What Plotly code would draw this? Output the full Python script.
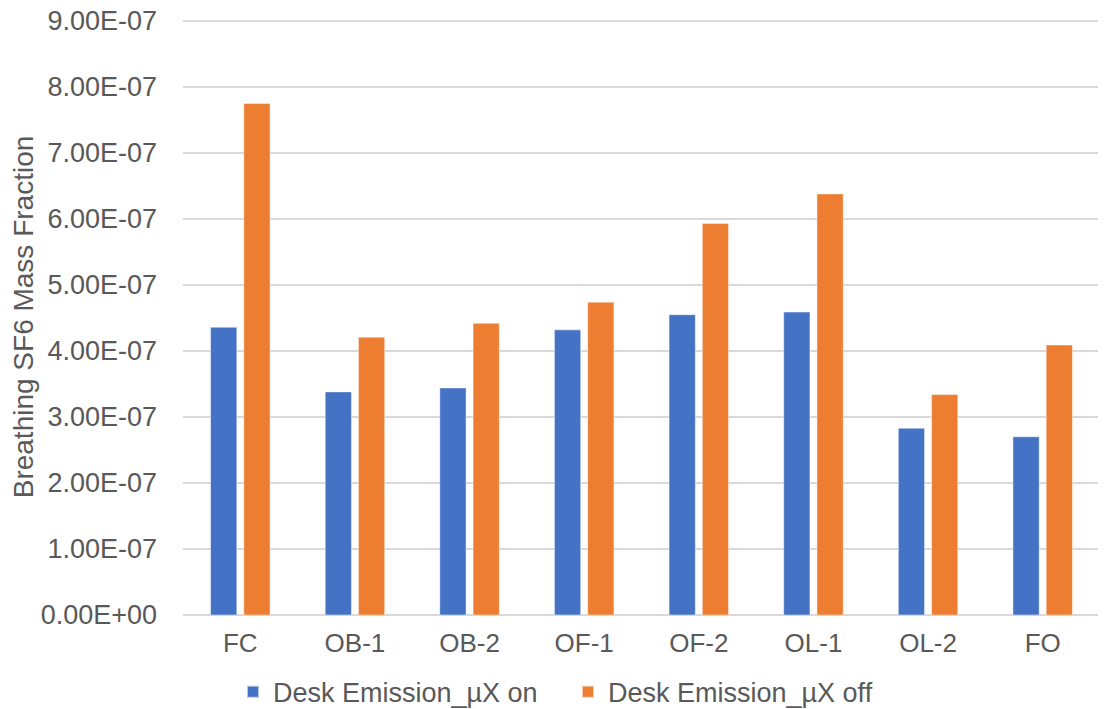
import plotly.graph_objects as go

categories = ["FC", "OB-1", "OB-2", "OF-1", "OF-2", "OL-1", "OL-2", "FO"]
on_values = [4.36e-7, 3.38e-7, 3.44e-7, 4.32e-7, 4.55e-7, 4.59e-7, 2.83e-7, 2.70e-7]
off_values = [7.75e-7, 4.21e-7, 4.42e-7, 4.74e-7, 5.93e-7, 6.38e-7, 3.34e-7, 4.09e-7]
series_names = ["Desk Emission_µX on", "Desk Emission_µX off"]
tick_values = [i * 1e-7 for i in range(10)]
tick_labels = ["0.00E+00", "1.00E-07", "2.00E-07", "3.00E-07", "4.00E-07",
               "5.00E-07", "6.00E-07", "7.00E-07", "8.00E-07", "9.00E-07"]
y_title = "Breathing SF6 Mass Fraction"

BLUE = "#4472C4"
ORANGE = "#ED7D31"
TEXT = "#595959"
GRID = "#D9D9D9"
FONT = "Liberation Sans, Arial, sans-serif"

fig = go.Figure()
fig.add_trace(go.Bar(x=categories, y=on_values, name=series_names[0],
                     marker=dict(color=BLUE, line=dict(color="rgba(255,255,255,0.6)", width=0.8))))
fig.add_trace(go.Bar(x=categories, y=off_values, name=series_names[1],
                     marker=dict(color=ORANGE, line=dict(color="rgba(255,255,255,0.6)", width=0.8))))

# The page body has an 8px default margin, so the figure is sized 8px smaller.
fig.update_layout(
    width=1098, height=701,
    paper_bgcolor="white", plot_bgcolor="white",
    margin=dict(l=175, r=6, t=11, b=94),
    barmode="group", bargap=0.42, bargroupgap=0.21,
    font=dict(family=FONT, color=TEXT, size=26),
    showlegend=True,
    legend=dict(orientation="h", xref="container", yref="container",
                x=0.510, xanchor="center", y=0.024, yanchor="middle",
                font=dict(size=27, color=TEXT),
                entrywidth=290, entrywidthmode="pixels",
                itemsizing="constant", traceorder="normal"),
)
fig.update_xaxes(showgrid=False, showline=False, zeroline=False,
                 tickfont=dict(size=26, color=TEXT), ticks="", ticklabelstandoff=10)
fig.update_yaxes(range=[0, 9.03e-7], tickvals=tick_values, ticktext=tick_labels,
                 showgrid=True, gridcolor=GRID, gridwidth=1.5,
                 zeroline=True, zerolinecolor=GRID, zerolinewidth=1.5,
                 showline=False, ticks="", ticklabelstandoff=25,
                 ticklabeloverflow="allow", automargin=False,
                 tickfont=dict(size=27, color=TEXT),
                 title=dict(text=y_title, font=dict(size=28, color=TEXT), standoff=11))

fig.write_html("out.html")
